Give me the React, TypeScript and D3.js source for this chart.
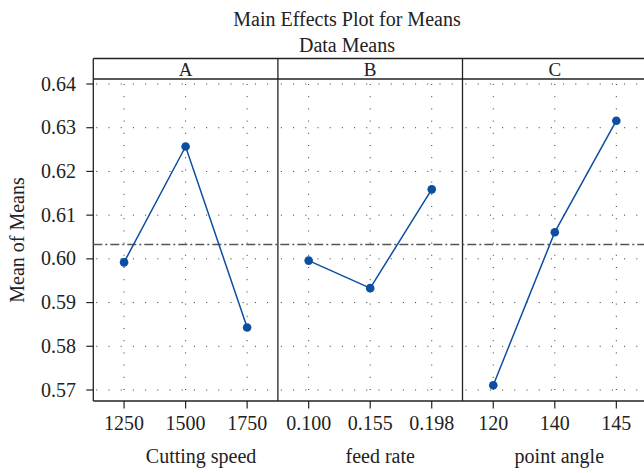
import React from "react";
import * as d3 from "d3";

const panelNames = ["A", "B", "C"];
const axisTitles = ["Cutting speed", "feed rate", "point angle"];
const levelsA = ["1250", "1500", "1750"];
const levelsB = ["0.100", "0.155", "0.198"];
const levelsC = ["120", "140", "145"];
const meansA = [0.5992, 0.6257, 0.5843];
const meansB = [0.5996, 0.5933, 0.6159];
const meansC = [0.5711, 0.6061, 0.6316];
const yTicks = [0.57, 0.58, 0.59, 0.6, 0.61, 0.62, 0.63, 0.64];
const grandMean = 0.6033;
const titleText = "Main Effects Plot for Means";
const subtitleText = "Data Means";
const yTitle = "Mean of Means";

const W = 644;
const H = 473;
const plotLeft = 93.3;
const panelW = 184.6;
const stripTop = 58.5;
const plotTop = 79;
const plotBottom = 401;
const titleOffsets = [15.5, 10, 4.5];
const FONT = "'Liberation Serif', 'DejaVu Serif', serif";
const BLUE = "#0b4ea2";

export default function App() {
  const panels = [
    { name: panelNames[0], levels: levelsA, means: meansA, title: axisTitles[0] },
    { name: panelNames[1], levels: levelsB, means: meansB, title: axisTitles[1] },
    { name: panelNames[2], levels: levelsC, means: meansC, title: axisTitles[2] },
  ];
  const y = d3.scaleLinear().domain([0.64, 0.57]).range([84, 390]);
  const plotRight = plotLeft + panelW * 3;
  const line = d3.line<[number, number]>().x((d) => d[0]).y((d) => d[1]);

  return (
    <svg
      width={W}
      height={H}
      style={{ position: "absolute", left: 0, top: 0, background: "#fff" }}
      fontFamily={FONT}
    >
      <rect x={0} y={0} width={W} height={H} fill="#fff" />
      <text x={347} y={26} textAnchor="middle" fontSize={20} fill="#222">
        {titleText}
      </text>
      <text x={347} y={51.5} textAnchor="middle" fontSize={20} fill="#222">
        {subtitleText}
      </text>
      <text
        transform={`translate(24,${(plotTop + plotBottom) / 2}) rotate(-90)`}
        textAnchor="middle"
        fontSize={20}
        fill="#222"
      >
        {yTitle}
      </text>

      {/* y ticks */}
      {yTicks.map((t) => (
        <g key={t}>
          <line x1={plotLeft - 7} x2={plotLeft} y1={y(t)} y2={y(t)} stroke="#222" strokeWidth={1.2} />
          <text x={76} y={y(t) + 6.5} textAnchor="end" fontSize={20} fill="#222">
            {d3.format(".2f")(t)}
          </text>
        </g>
      ))}

      {panels.map((p, i) => {
        const x0 = plotLeft + panelW * i;
        const x = d3.scalePoint<string>().domain(p.levels).range([x0, x0 + panelW]).padding(0.5);
        const pts: [number, number][] = p.levels.map((l, j) => [x(l)!, y(p.means[j])]);
        return (
          <g key={p.name}>
            {/* grid */}
            {yTicks.map((t) => (
              <line
                key={"h" + t}
                x1={x0 + 3}
                x2={x0 + panelW}
                y1={y(t)}
                y2={y(t)}
                stroke="#333"
                strokeWidth={1}
                strokeDasharray="1 11.2"
              />
            ))}
            {p.levels.map((l) => (
              <line
                key={"v" + l}
                x1={x(l)}
                x2={x(l)}
                y1={plotTop + 5}
                y2={plotBottom}
                stroke="#333"
                strokeWidth={1}
                strokeDasharray="1 11.2"
              />
            ))}
            {/* x ticks */}
            {p.levels.map((l) => (
              <g key={"t" + l}>
                <line x1={x(l)} x2={x(l)} y1={plotBottom} y2={plotBottom + 7.5} stroke="#222" strokeWidth={1.2} />
                <text x={x(l)} y={430} textAnchor="middle" fontSize={20} fill="#222">
                  {l}
                </text>
              </g>
            ))}
            <text x={x0 + panelW / 2 + titleOffsets[i]} y={463} textAnchor="middle" fontSize={20} fill="#222">
              {p.title}
            </text>
            {/* strip label */}
            <text x={x0 + panelW / 2} y={75.5} textAnchor="middle" fontSize={19} fill="#222">
              {p.name}
            </text>
            {/* divider */}
            <line x1={x0} x2={x0} y1={stripTop} y2={plotBottom} stroke="#222" strokeWidth={1.3} />
          </g>
        );
      })}

      {/* grand mean */}
      <line
        x1={plotLeft}
        x2={plotRight}
        y1={y(grandMean)}
        y2={y(grandMean)}
        stroke="#555"
        strokeWidth={1.4}
        strokeDasharray="9 3 2 3"
      />

      {/* data */}
      {panels.map((p, i) => {
        const x0 = plotLeft + panelW * i;
        const x = d3.scalePoint<string>().domain(p.levels).range([x0, x0 + panelW]).padding(0.5);
        const pts: [number, number][] = p.levels.map((l, j) => [x(l)!, y(p.means[j])]);
        return (
          <g key={"d" + p.name}>
            <path d={line(pts) || ""} fill="none" stroke={BLUE} strokeWidth={1.5} />
            {pts.map((pt, j) => (
              <circle key={j} cx={pt[0]} cy={pt[1]} r={4.3} fill={BLUE} />
            ))}
          </g>
        );
      })}

      {/* frame */}
      <line x1={plotLeft} x2={plotRight} y1={stripTop} y2={stripTop} stroke="#222" strokeWidth={1.3} />
      <line x1={plotLeft} x2={plotRight} y1={plotTop} y2={plotTop} stroke="#222" strokeWidth={1.3} />
      <line x1={plotLeft} x2={plotRight} y1={plotBottom} y2={plotBottom} stroke="#222" strokeWidth={1.3} />
      <line x1={plotRight} x2={plotRight} y1={stripTop} y2={plotBottom} stroke="#222" strokeWidth={1.3} />
    </svg>
  );
}
